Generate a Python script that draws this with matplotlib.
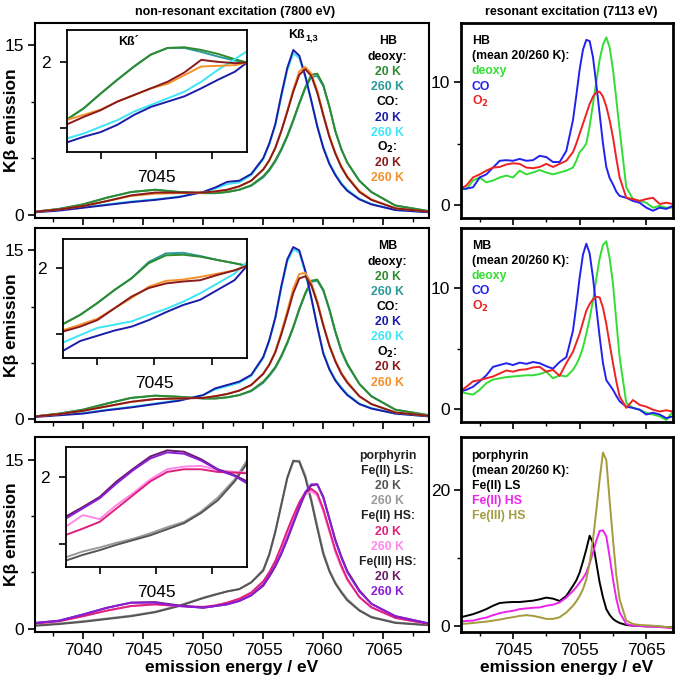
import matplotlib.pyplot as plt
import numpy as np

plt.rcParams['font.family'] = ['Liberation Sans', 'DejaVu Sans']

# ---- non-resonant (7800 eV) main spectra ----
x_main = [7036, 7038, 7040, 7042, 7044, 7046, 7048, 7050, 7051, 7052, 7053, 7054,
          7055, 7055.5, 7056, 7056.5, 7057, 7057.5, 7058, 7058.5, 7059, 7059.5,
          7060, 7060.5, 7061, 7061.5, 7062, 7063, 7064, 7066, 7068.8]

hb_deoxy20 = [0.25, 0.5, 0.9, 1.5, 2.0, 2.2, 2.0, 1.9, 1.9, 2.0, 2.2, 2.6, 3.4, 4.0, 4.8, 5.8,
              7.0, 8.4, 9.9, 11.3, 12.4, 12.5, 11.5, 9.6, 7.4, 5.8, 4.6, 3.0, 2.0, 0.8, 0.3]
hb_deoxy260 = [0.25, 0.5, 0.9, 1.5, 2.0, 2.2, 2.0, 1.9, 1.9, 2.0, 2.2, 2.55, 3.3, 3.9, 4.7, 5.7,
               6.9, 8.3, 9.8, 11.2, 12.2, 12.3, 11.4, 9.6, 7.4, 5.8, 4.6, 3.0, 2.0, 0.8, 0.3]
hb_co20 = [0.2, 0.35, 0.6, 0.85, 1.1, 1.3, 1.55, 2.0, 2.4, 2.9, 3.0, 3.6, 5.0, 6.3, 8.0, 10.6,
           13.0, 14.6, 14.1, 12.3, 10.1, 7.8, 5.9, 4.5, 3.5, 2.7, 2.1, 1.35, 0.9, 0.4, 0.2]
hb_co260 = [0.25, 0.4, 0.65, 0.9, 1.15, 1.35, 1.6, 2.0, 2.3, 2.7, 2.85, 3.5, 4.9, 6.2, 7.9, 10.4,
            12.8, 14.3, 13.9, 12.2, 10.1, 7.9, 6.0, 4.6, 3.6, 2.8, 2.2, 1.4, 0.95, 0.4, 0.2]
hb_o2_20 = [0.25, 0.45, 0.75, 1.2, 1.7, 1.95, 1.95, 1.95, 2.05, 2.2, 2.5, 3.0, 4.0, 4.8, 5.9, 7.4,
            9.1, 10.9, 12.4, 12.9, 12.3, 10.8, 8.8, 6.9, 5.4, 4.2, 3.3, 2.0, 1.3, 0.55, 0.25]
hb_o2_260 = [0.25, 0.45, 0.75, 1.2, 1.65, 1.85, 1.9, 1.95, 2.05, 2.2, 2.5, 3.0, 4.0, 4.8, 5.9, 7.4,
             9.2, 11.1, 12.7, 13.1, 12.5, 11.0, 8.9, 7.0, 5.5, 4.3, 3.4, 2.1, 1.35, 0.55, 0.25]

mb_deoxy20 = [0.2, 0.45, 0.8, 1.35, 1.85, 2.05, 1.95, 1.8, 1.8, 1.9, 2.1, 2.5, 3.3, 3.9, 4.6, 5.6,
              6.8, 8.2, 9.8, 11.2, 12.3, 12.4, 11.5, 9.8, 7.8, 6.1, 4.9, 3.1, 2.0, 0.8, 0.3]
mb_deoxy260 = [0.2, 0.45, 0.8, 1.35, 1.85, 2.05, 1.95, 1.8, 1.8, 1.9, 2.1, 2.45, 3.2, 3.8, 4.5, 5.5,
               6.7, 8.1, 9.7, 11.1, 12.2, 12.3, 11.4, 9.7, 7.7, 6.0, 4.8, 3.1, 2.0, 0.8, 0.3]
mb_co20 = [0.15, 0.3, 0.45, 0.75, 1.0, 1.3, 1.6, 2.1, 2.7, 3.0, 3.3, 3.9, 5.5, 7.0, 9.0, 11.8,
           14.2, 15.3, 15.0, 13.2, 10.8, 8.2, 5.8, 4.4, 3.4, 2.7, 2.1, 1.3, 0.9, 0.45, 0.2]
mb_co260 = [0.2, 0.35, 0.5, 0.8, 1.05, 1.35, 1.65, 2.1, 2.6, 2.9, 3.2, 3.8, 5.4, 6.9, 8.9, 11.6,
            14.0, 15.1, 14.8, 13.0, 10.7, 8.2, 5.9, 4.5, 3.5, 2.8, 2.2, 1.35, 0.95, 0.45, 0.2]
mb_o2_20 = [0.2, 0.4, 0.7, 1.1, 1.5, 1.75, 1.8, 1.85, 2.0, 2.2, 2.5, 3.0, 4.0, 4.8, 5.9, 7.5,
            9.3, 11.2, 12.5, 12.7, 11.9, 10.3, 8.3, 6.5, 5.1, 4.0, 3.2, 2.0, 1.3, 0.55, 0.25]
mb_o2_260 = [0.2, 0.4, 0.7, 1.1, 1.5, 1.75, 1.8, 1.85, 2.0, 2.2, 2.5, 3.0, 4.0, 4.8, 6.0, 7.7,
             9.6, 11.6, 12.9, 13.0, 12.1, 10.5, 8.4, 6.6, 5.2, 4.1, 3.3, 2.0, 1.3, 0.55, 0.25]

p_ls20 = [0.25, 0.4, 0.6, 0.85, 1.1, 1.45, 2.0, 2.7, 3.0, 3.3, 3.5, 4.1, 5.2, 6.6, 8.6, 11.0,
          13.4, 14.9, 14.8, 13.4, 11.3, 8.9, 6.6, 5.1, 4.0, 3.2, 2.5, 1.6, 1.0, 0.5, 0.3]
p_ls260 = [0.3, 0.45, 0.65, 0.9, 1.15, 1.5, 2.05, 2.75, 3.05, 3.3, 3.5, 4.1, 5.1, 6.5, 8.5, 10.9,
           13.3, 14.8, 14.9, 13.6, 11.5, 9.1, 6.8, 5.2, 4.1, 3.3, 2.6, 1.65, 1.05, 0.55, 0.3]
p_hs20 = [0.45, 0.65, 1.1, 1.6, 2.0, 2.15, 2.0, 1.9, 2.05, 2.3, 2.65, 3.2, 4.2, 5.0, 6.0, 7.3,
          8.7, 10.0, 11.2, 12.1, 12.4, 12.0, 10.6, 8.8, 7.0, 5.6, 4.4, 2.8, 1.9, 0.95, 0.4]
p_hs260 = [0.45, 0.65, 1.1, 1.6, 2.0, 2.15, 2.0, 1.95, 2.05, 2.3, 2.6, 3.1, 4.0, 4.8, 5.8, 7.0,
           8.4, 9.8, 11.0, 11.9, 12.2, 11.8, 10.4, 8.6, 6.8, 5.4, 4.3, 2.8, 1.85, 0.95, 0.4]
p_f3_20 = [0.5, 0.7, 1.25, 1.85, 2.3, 2.35, 2.05, 1.85, 2.0, 2.15, 2.45, 2.95, 3.8, 4.6, 5.5, 6.6,
           7.9, 9.3, 10.7, 12.0, 12.7, 12.8, 11.7, 9.8, 7.9, 6.4, 5.1, 3.4, 2.2, 1.1, 0.45]
p_f3_260 = [0.5, 0.7, 1.25, 1.85, 2.3, 2.3, 2.0, 1.85, 2.0, 2.15, 2.45, 2.95, 3.9, 4.7, 5.6, 6.7,
            8.0, 9.4, 10.8, 12.1, 12.8, 12.8, 11.6, 9.7, 7.8, 6.3, 5.0, 3.3, 2.2, 1.1, 0.45]

# ---- insets (pre-edge region) ----
x_ins = [7036.9, 7038.5, 7040, 7041.5, 7043, 7044.5, 7046, 7047.5, 7049, 7050.5, 7052, 7053.1]

ihb_deoxy20 = [1.12, 1.30, 1.52, 1.73, 1.93, 2.11, 2.21, 2.22, 2.18, 2.12, 2.04, 1.99]
ihb_deoxy260 = [1.12, 1.30, 1.52, 1.73, 1.93, 2.11, 2.21, 2.21, 2.15, 2.08, 2.02, 1.99]
ihb_co20 = [0.78, 0.87, 0.94, 1.05, 1.20, 1.32, 1.40, 1.48, 1.60, 1.73, 1.85, 1.99]
ihb_co260 = [0.84, 0.92, 1.02, 1.12, 1.25, 1.35, 1.45, 1.55, 1.70, 1.88, 2.04, 2.16]
ihb_o2_20 = [1.05, 1.17, 1.27, 1.40, 1.50, 1.60, 1.70, 1.84, 2.03, 2.00, 1.98, 1.99]
ihb_o2_260 = [1.12, 1.20, 1.28, 1.40, 1.50, 1.60, 1.67, 1.80, 1.93, 1.94, 1.95, 1.99]

imb_deoxy20 = [1.14, 1.29, 1.47, 1.67, 1.85, 2.08, 2.20, 2.21, 2.18, 2.13, 2.08, 2.04]
imb_deoxy260 = [1.14, 1.29, 1.47, 1.67, 1.85, 2.10, 2.23, 2.24, 2.19, 2.13, 2.08, 2.04]
imb_co20 = [0.73, 0.89, 0.97, 1.05, 1.11, 1.21, 1.33, 1.44, 1.52, 1.67, 1.82, 2.04]
imb_co260 = [0.86, 0.98, 1.09, 1.14, 1.19, 1.29, 1.38, 1.49, 1.62, 1.77, 1.92, 2.10]
imb_o2_20 = [1.03, 1.11, 1.21, 1.39, 1.57, 1.70, 1.77, 1.80, 1.82, 1.90, 1.97, 2.04]
imb_o2_260 = [1.05, 1.14, 1.23, 1.39, 1.55, 1.72, 1.81, 1.83, 1.87, 1.92, 1.97, 2.04]

ip_ls20 = [0.75, 0.84, 0.91, 0.99, 1.06, 1.13, 1.22, 1.31, 1.46, 1.65, 1.93, 2.20]
ip_ls260 = [0.80, 0.89, 0.95, 1.02, 1.08, 1.16, 1.25, 1.33, 1.48, 1.69, 1.96, 2.24]
ip_hs20 = [1.13, 1.23, 1.33, 1.53, 1.73, 1.93, 2.07, 2.11, 2.11, 2.07, 2.06, 2.05]
ip_hs260 = [1.25, 1.43, 1.37, 1.58, 1.76, 1.96, 2.11, 2.15, 2.16, 2.10, 2.07, 2.06]
ip_f3_20 = [1.40, 1.55, 1.70, 1.93, 2.12, 2.30, 2.39, 2.37, 2.26, 2.11, 2.02, 1.93]
ip_f3_260 = [1.37, 1.53, 1.68, 1.90, 2.10, 2.27, 2.36, 2.34, 2.24, 2.10, 2.01, 1.90]

# ---- resonant (7113 eV), mean 20/260 K ----
x_res = [7037, 7038, 7039, 7040, 7041, 7042, 7043, 7044, 7045, 7046, 7047, 7048, 7049,
         7050, 7051, 7052, 7053, 7054, 7054.5, 7055, 7055.5, 7056, 7056.5, 7057, 7057.5,
         7058, 7058.5, 7059, 7059.5, 7060, 7060.5, 7061, 7062, 7063, 7064, 7065, 7066,
         7067, 7068, 7069]

rhb_deoxy = [1.45, 1.3, 2.0, 2.25, 1.85, 2.0, 2.25, 2.4, 2.25, 2.8, 2.5, 2.65, 2.85, 2.65, 2.5,
             2.65, 2.8, 3.05, 3.6, 4.3, 4.6, 5.0, 6.4, 8.2, 10.0, 11.8, 13.0, 13.6, 12.8, 11.0,
             8.6, 6.1, 1.45, 0.5, 0.35, 0.2, -0.2, -0.05, -0.2, -0.2]
rhb_co = [1.3, 1.35, 1.45, 2.25, 2.5, 3.05, 3.6, 3.65, 3.6, 3.75, 3.6, 3.65, 4.0, 3.9, 3.5, 3.5,
          4.4, 6.9, 8.9, 11.0, 12.6, 13.4, 13.3, 12.0, 9.8, 7.4, 5.0, 3.1, 2.2, 1.7, 1.1, 0.75,
          0.6, 0.35, 0.2, -0.2, -0.45, -0.2, -0.3, -0.05]
rhb_o2 = [1.3, 1.6, 2.25, 2.5, 2.8, 3.05, 3.1, 3.3, 3.4, 3.35, 3.05, 3.0, 3.1, 3.35, 3.1, 3.35,
          3.6, 4.3, 5.0, 5.8, 6.6, 7.4, 8.2, 8.8, 9.15, 9.2, 8.8, 8.0, 6.9, 5.5, 3.8, 2.25,
          0.6, 0.5, 0.35, 0.5, 0.6, 0.1, 0.2, 0.1]

rmb_deoxy = [1.45, 1.3, 1.2, 1.6, 2.15, 2.45, 2.55, 2.65, 2.7, 2.75, 2.8, 2.8, 2.9, 3.1, 2.55,
             2.8, 2.7, 3.25, 3.7, 4.3, 5.1, 6.25, 7.5, 9.0, 10.8, 12.5, 13.6, 13.9, 12.5, 10.4,
             7.3, 4.3, 0.5, 0.1, -0.05, -0.3, -0.45, -0.6, -0.9, -0.2]
rmb_co = [1.45, 1.6, 1.85, 2.3, 2.8, 3.5, 3.65, 3.8, 3.65, 3.85, 3.75, 3.9, 3.8, 3.55, 3.35, 3.9,
          4.3, 6.5, 8.6, 10.9, 12.8, 13.7, 12.9, 10.9, 8.4, 6.0, 3.8, 2.4, 2.0, 1.6, 1.1, 0.65,
          0.2, 0.1, -0.05, -0.45, -0.3, -0.45, -0.75, -0.6]
rmb_o2 = [1.45, 1.85, 2.3, 2.4, 2.55, 2.7, 2.95, 3.2, 3.1, 3.25, 3.3, 3.45, 3.5, 3.1, 3.25, 2.75,
          3.8, 4.75, 5.5, 6.25, 7.2, 8.15, 8.7, 9.1, 9.3, 9.25, 8.4, 7.05, 5.4, 3.8, 2.3, 1.05,
          0.1, 0.75, 0.35, 0.2, -0.05, -0.2, -0.1, -0.2]

rp_ls = [1.2, 1.45, 1.7, 2.05, 2.45, 2.95, 3.35, 3.45, 3.5, 3.5, 3.6, 3.7, 3.9, 4.15, 4.0, 3.65,
         4.4, 5.9, 6.7, 7.85, 9.5, 11.3, 13.3, 12.25, 9.3, 6.4, 4.2, 2.45, 1.6, 1.0, 0.65, 0.4,
         0.1, 0.0, -0.05, -0.1, -0.1, -0.15, -0.2, -0.25]
rp_hs = [0.6, 0.7, 0.75, 1.0, 1.2, 1.55, 1.85, 2.05, 2.2, 2.45, 2.55, 2.65, 2.7, 2.95, 3.1, 3.45,
         4.15, 5.15, 5.7, 6.35, 7.0, 7.85, 9.2, 10.8, 12.6, 14.0, 14.1, 13.2, 10.2, 6.85, 4.0,
         1.95, 0.25, 0.0, -0.05, -0.1, -0.15, -0.2, -0.3, -0.4]
rp_f3 = [0.25, 0.3, 0.4, 0.5, 0.6, 0.75, 0.9, 1.1, 1.25, 1.45, 1.55, 1.45, 1.25, 1.0, 1.0, 1.25,
         1.95, 2.95, 3.6, 4.4, 5.4, 6.85, 9.3, 12.75, 17.0, 21.6, 25.6, 24.5, 18.5, 12.75, 7.5,
         3.9, 0.75, 0.25, 0.1, 0.05, 0.0, -0.1, -0.2, -0.25]

# colours
c_deoxy20, c_deoxy260 = '#2e8b2e', '#2a9a9a'
c_co20, c_co260 = '#1c1ca8', '#3ce6f5'
c_o2_20, c_o2_260 = '#8b1a1a', '#f5902a'
c_ls20, c_ls260 = '#555555', '#9a9a9a'
c_hs20, c_hs260 = '#e0207a', '#ff88e8'
c_f3_20, c_f3_260 = '#6a1a6a', '#8a1ed8'

fig = plt.figure(figsize=(6.77, 6.81), dpi=100)

left_x, left_w = 0.0517, 0.582
right_x, right_w = 0.681, 0.313
rows = [(0.680, 0.2863), (0.3803, 0.2849), (0.0720, 0.2863)]
inset_pos = [[0.099, 0.7768, 0.2659, 0.1791],
             [0.0931, 0.4743, 0.2718, 0.1747],
             [0.0975, 0.1674, 0.2674, 0.1762]]
inset_ylim = [(0.64, 2.48), (0.63, 2.45), (0.66, 2.44)]

left_sets = [
    [(hb_deoxy260, ihb_deoxy260, c_deoxy260), (hb_deoxy20, ihb_deoxy20, c_deoxy20),
     (hb_co260, ihb_co260, c_co260), (hb_co20, ihb_co20, c_co20),
     (hb_o2_260, ihb_o2_260, c_o2_260), (hb_o2_20, ihb_o2_20, c_o2_20)],
    [(mb_deoxy260, imb_deoxy260, c_deoxy260), (mb_deoxy20, imb_deoxy20, c_deoxy20),
     (mb_co260, imb_co260, c_co260), (mb_co20, imb_co20, c_co20),
     (mb_o2_260, imb_o2_260, c_o2_260), (mb_o2_20, imb_o2_20, c_o2_20)],
    [(p_ls260, ip_ls260, c_ls260), (p_ls20, ip_ls20, c_ls20),
     (p_hs260, ip_hs260, c_hs260), (p_hs20, ip_hs20, c_hs20),
     (p_f3_20, ip_f3_20, c_f3_20), (p_f3_260, ip_f3_260, c_f3_260)],
]

o2 = r'O$_{\mathbf{2}}$:'
left_labels = [
    [('HB', 'k'), ('deoxy:', 'k'), ('20 K', c_deoxy20), ('260 K', c_deoxy260), ('CO:', 'k'),
     ('20 K', c_co20), ('260 K', c_co260), (o2, 'k'), ('20 K', c_o2_20), ('260 K', c_o2_260)],
    [('MB', 'k'), ('deoxy:', 'k'), ('20 K', c_deoxy20), ('260 K', c_deoxy260), ('CO:', 'k'),
     ('20 K', c_co20), ('260 K', c_co260), (o2, 'k'), ('20 K', c_o2_20), ('260 K', c_o2_260)],
    [('porphyrin', '#222222'), ('Fe(II) LS:', '#222222'), ('20 K', c_ls20), ('260 K', c_ls260),
     ('Fe(II) HS:', '#222222'), ('20 K', c_hs20), ('260 K', c_hs260), ('Fe(III) HS:', '#222222'),
     ('20 K', c_f3_20), ('260 K', c_f3_260)],
]

right_sets = [
    [(rhb_deoxy, '#33dd33'), (rhb_co, '#2222ee'), (rhb_o2, '#ee2222')],
    [(rmb_deoxy, '#33dd33'), (rmb_co, '#2222ee'), (rmb_o2, '#ee2222')],
    [(rp_ls, 'black'), (rp_hs, '#ee22ee'), (rp_f3, '#a39b3c')],
]
right_labels = [
    [('HB', 'k'), ('(mean 20/260 K):', 'k'), ('deoxy', '#33dd33'), ('CO', '#2222ee'),
     (r'O$_{\mathbf{2}}$', '#ee2222')],
    [('MB', 'k'), ('(mean 20/260 K):', 'k'), ('deoxy', '#33dd33'), ('CO', '#2222ee'),
     (r'O$_{\mathbf{2}}$', '#ee2222')],
    [('porphyrin', 'k'), ('(mean 20/260 K):', 'k'), ('Fe(II) LS', 'k'), ('Fe(II) HS', '#ee22ee'),
     ('Fe(III) HS', '#a39b3c')],
]
right_ylim = [(-1.03, 14.77), (-1.07, 15.0), (-0.93, 27.9)]
right_yt = [([0, 10], [5]), ([0, 10], [5]), ([0, 20], [10])]

tick_kw = dict(direction='out', labelsize=12.5, width=1.2)

for i, (y0, h) in enumerate(rows):
    ax = fig.add_axes([left_x, y0, left_w, h])
    for main, ins, col in left_sets[i]:
        ax.plot(x_main, main, color=col, lw=1.4)
    ax.set_xlim(7036.0, 7068.8)
    ax.set_ylim(-0.3, 17.0)
    ax.set_yticks([0, 15])
    ax.set_yticks([5, 10], minor=True)
    ax.set_xticks(np.arange(7040, 7066, 5))
    ax.set_xticks(np.arange(7037.5, 7068, 5), minor=True)
    ax.tick_params(which='major', length=5, pad=3, **tick_kw)
    ax.tick_params(which='minor', direction='out', length=3, width=1.0)
    for s in ax.spines.values():
        s.set_linewidth(1.5)
    ax.set_ylabel('Kβ emission', fontsize=12.5, fontweight='bold')
    ax.yaxis.set_label_coords(-0.04, 0.5)
    if i < 2:
        ax.tick_params(labelbottom=False)
    else:
        ax.set_xlabel('emission energy / eV', fontsize=12.5, fontweight='bold')
        ax.xaxis.set_label_coords(0.5, -0.145)
    for k, (txt, col) in enumerate(left_labels[i]):
        ax.text(0.895, 0.905 - k * 0.078, txt, transform=ax.transAxes, ha='center',
                va='center', fontsize=8.8, fontweight='bold', color=col)
    if i == 0:
        ax.text(0.685, 0.94, 'Kß', transform=ax.transAxes, ha='right',
                va='center', fontsize=9, fontweight='bold')
        ax.text(0.686, 0.925, '1,3', transform=ax.transAxes, ha='left',
                va='center', fontsize=6.5, fontweight='bold')

    ia = fig.add_axes(inset_pos[i])
    for main, ins, col in left_sets[i]:
        ia.plot(x_ins, ins, color=col, lw=1.4)
    ia.set_xlim(7037.0, 7053.1)
    ia.set_ylim(*inset_ylim[i])
    ia.set_xticks([7045])
    ia.set_xticks([7040, 7050], minor=True)
    ia.set_yticks([2])
    ia.set_yticks([1], minor=True)
    ia.tick_params(which='major', length=5, pad=8, **tick_kw)
    ia.tick_params(axis='y', which='major', pad=7)
    ia.tick_params(which='minor', direction='out', length=5, width=1.2)
    for s in ia.spines.values():
        s.set_linewidth(1.3)
    if i == 0:
        ia.text(0.34, 0.95, 'Kß´', transform=ia.transAxes, ha='center', va='top',
                fontsize=9, fontweight='bold')

    ar = fig.add_axes([right_x, y0, right_w, h])
    for ser, col in right_sets[i]:
        ar.plot(x_res, ser, color=col, lw=1.4)
    ar.set_xlim(7037.2, 7069.0)
    ar.set_ylim(*right_ylim[i])
    ar.set_yticks(right_yt[i][0])
    ar.set_yticks(right_yt[i][1], minor=True)
    ar.set_xticks([7045, 7055, 7065])
    ar.set_xticks([7040, 7050, 7060], minor=True)
    ar.tick_params(which='major', length=5, pad=3, **tick_kw)
    ar.tick_params(which='minor', direction='out', length=3, width=1.0)
    for s in ar.spines.values():
        s.set_linewidth(2.0)
    if i < 2:
        ar.tick_params(labelbottom=False)
    else:
        ar.set_xlabel('emission energy / eV', fontsize=12.5, fontweight='bold')
        ar.xaxis.set_label_coords(0.5, -0.145)
    for k, (txt, col) in enumerate(right_labels[i]):
        ar.text(0.05, 0.905 - k * 0.077, txt, transform=ar.transAxes, ha='left',
                va='center', fontsize=8.8, fontweight='bold', color=col)

fig.text(235 / 677, 1 - 12 / 681, 'non-resonant excitation (7800 eV)', ha='center',
         va='center', fontsize=9, fontweight='bold')
fig.text(571 / 677, 1 - 12 / 681, 'resonant excitation (7113 eV)', ha='center',
         va='center', fontsize=9, fontweight='bold')

plt.savefig('out.png', dpi=100)
